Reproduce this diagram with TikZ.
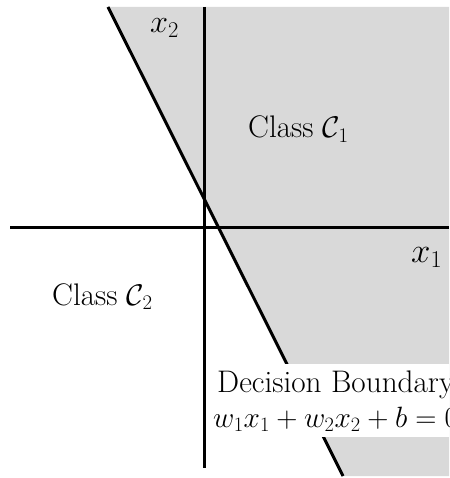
\documentclass[tikz,border=0pt]{standalone}
\usepackage{graphicx}
\definecolor{regiongray}{HTML}{D9D9D9}
\newcommand{\bigtxt}[2][1.2]{\scalebox{#1}{#2}}
\begin{document}
\begin{tikzpicture}[x=1pt,y=-1pt,
  lbl/.style={inner sep=0pt, anchor=base west, font=\fontsize{26}{30}\selectfont},
  axisline/.style={line width=3pt, black},
  region/.style={fill=regiongray},
  whitebox/.style={fill=white, draw=none, inner sep=0pt, anchor=north west, minimum width=245pt, minimum height=73pt}]
\useasboundingbox (0,0) rectangle (449,478);
\clip (0,0) rectangle (449,478);
% decision line end points
\coordinate (btop) at (108,7);
\coordinate (bbot) at (343,476);
\coordinate (rtop) at (449,7);
\coordinate (rbot) at (449,476);
\fill[region] (btop) -- (rtop) -- (rbot) -- (bbot) -- cycle;
\draw[axisline] (btop) -- (bbot);
% axes
\coordinate (vtop) at (204.5,7);
\coordinate (vbot) at (204.5,468);
\coordinate (hl) at (10,227.5);
\coordinate (hr) at (449,227.5);
\draw[axisline] (vtop) -- (vbot);
\draw[axisline] (hl) -- (hr);
% label box
\node[whitebox] (box) at (207,364) {};
\node[lbl] (dbtext) at (217,392) {\bigtxt{Decision Boundary}};
\node[lbl] (eq) at (213,427) {\bigtxt[1.18]{$w_1x_1+w_2x_2+b=0$}};
% labels
\node[lbl] (xtwo) at (150,33) {\bigtxt[1.3]{$x_2$}};
\node[lbl] (xone) at (411,262) {\bigtxt[1.4]{$x_1$}};
\node[lbl] (cone) at (248,138) {\bigtxt{Class $\mathcal{C}_1$}};
\node[lbl] (ctwo) at (52,305) {\bigtxt{Class $\mathcal{C}_2$}};
\end{tikzpicture}
\end{document}
